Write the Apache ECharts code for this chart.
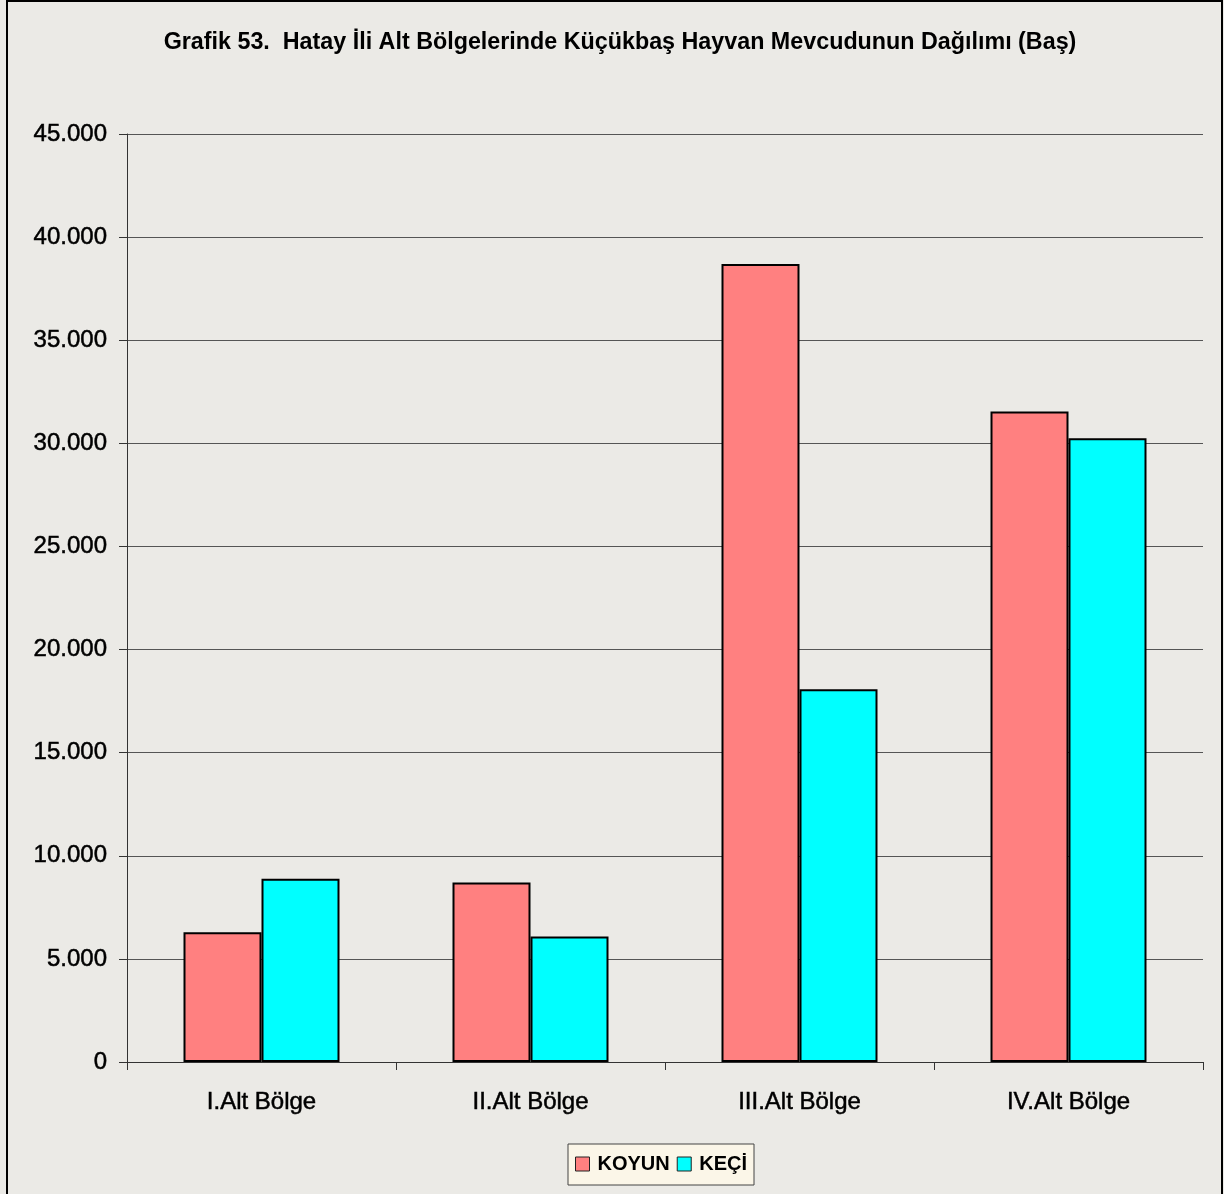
<!DOCTYPE html>
<html><head><meta charset="utf-8">
<script src="https://cdn.jsdelivr.net/npm/echarts@6/dist/echarts.min.js"></script>
<style>html,body{margin:0;padding:0;background:#fff}#c{width:1224px;height:1194px}</style>
</head><body><div id="c"></div>
<script>
const titleText = 'Grafik 53.  Hatay İli Alt Bölgelerinde Küçükbaş Hayvan Mevcudunun Dağılımı (Baş)';
const categories = ['I.Alt Bölge', 'II.Alt Bölge', 'III.Alt Bölge', 'IV.Alt Bölge'];
const seriesNames = ['KOYUN', 'KEÇİ'];
const koyun = [6290, 8700, 38700, 31540];
const keci = [8890, 6080, 18070, 30250];
const yTicks = [0, 5000, 10000, 15000, 20000, 25000, 30000, 35000, 40000, 45000];

const chart = echarts.init(document.getElementById('c'), null, {renderer: 'canvas'});
const fmt = v => String(v).replace(/\B(?=(\d{3})+(?!\d))/g, '.');
const F = 'Liberation Sans, Arial, sans-serif';
const lbl = {fontFamily: F, fontSize: 24, color: '#000', textBorderColor: '#000', textBorderWidth: 0.5};
chart.setOption({
  backgroundColor: '#ebeae6',
  animation: false,
  title: {
    text: titleText, left: 615, top: 26, textAlign: 'center',
    textStyle: {fontFamily: F, fontSize: 23.3, fontWeight: 'bold', color: '#000'}
  },
  graphic: [{
    type: 'rect', shape: {x: 7, y: 1, width: 1215, height: 1210},
    style: {fill: 'none', stroke: '#000', lineWidth: 2}, silent: true, z: -1
  }],
  legend: {
    data: seriesNames, left: 568, top: 1144,
    padding: [10, 7, 11, 7], itemGap: 7, itemWidth: 14, itemHeight: 14,
    backgroundColor: '#fbf6e8', borderColor: '#444', borderWidth: 1,
    icon: 'rect',
    textStyle: {fontFamily: F, fontSize: 20, fontWeight: 'bold', color: '#000', padding: [0, 0, 0, 3]},
    itemStyle: {borderColor: '#222', borderWidth: 1}
  },
  grid: {left: 127, top: 134, right: 21, bottom: 132, containLabel: false},
  xAxis: {
    type: 'category', data: categories,
    axisLine: {lineStyle: {color: '#333', width: 1}},
    axisTick: {show: true, length: 8, lineStyle: {color: '#333'}, alignWithLabel: false},
    axisLabel: Object.assign({margin: 28}, lbl)
  },
  yAxis: {
    type: 'value', min: 0, max: 45000, interval: 5000,
    axisLine: {show: true, lineStyle: {color: '#333', width: 1}},
    axisTick: {show: true, length: 8, lineStyle: {color: '#333'}},
    splitLine: {lineStyle: {color: '#555', width: 1}},
    axisLabel: Object.assign({margin: 20, formatter: v => yTicks.includes(v) ? fmt(v) : ''}, lbl)
  },
  series: [
    {name: seriesNames[0], type: 'bar', data: koyun, barWidth: 78, barGap: '0%',
     itemStyle: {color: '#ff8080', borderColor: '#000', borderWidth: 2}},
    {name: seriesNames[1], type: 'bar', data: keci, barWidth: 78,
     itemStyle: {color: '#00ffff', borderColor: '#000', borderWidth: 2}}
  ]
});
</script></body></html>
